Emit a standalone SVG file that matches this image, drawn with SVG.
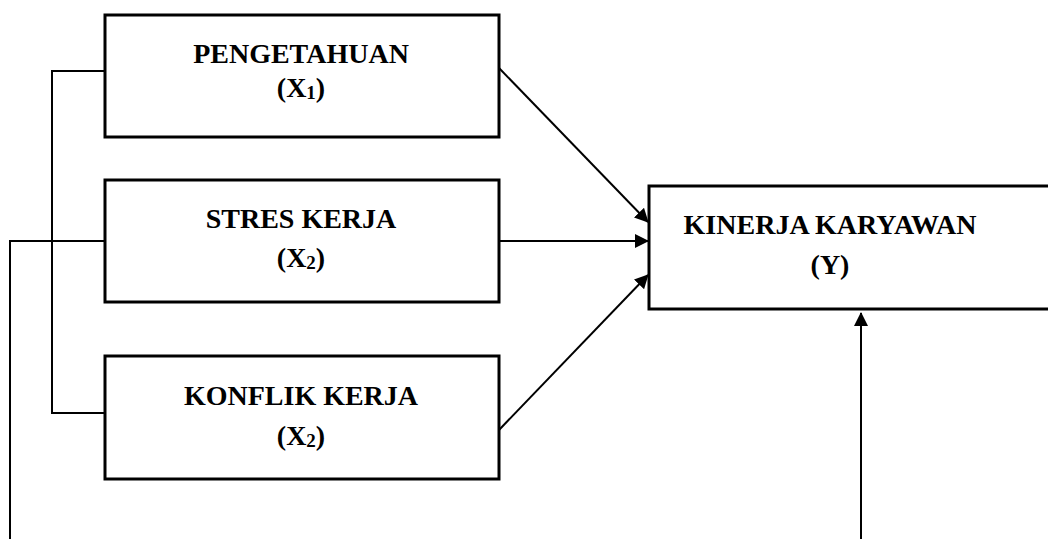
<svg xmlns="http://www.w3.org/2000/svg" width="1048" height="539" viewBox="0 0 1048 539">
<style>
.box{fill:#fff;stroke:#000;stroke-width:3}
.lbl{font-family:"Liberation Serif","Times New Roman",serif;font-weight:bold;font-size:28px;fill:#000;text-anchor:middle}
.sub{font-size:19px}
.con{fill:none;stroke:#000;stroke-width:2}
</style>
<defs>
<marker id="ah" markerWidth="10" markerHeight="10" refX="9" refY="5" orient="auto" markerUnits="userSpaceOnUse" viewBox="0 0 10 10">
<path d="M0,0 L10,5 L0,10 Z" fill="#000"/>
</marker>
<marker id="ah2" markerWidth="14" markerHeight="14" refX="13" refY="7" orient="auto" markerUnits="userSpaceOnUse" viewBox="0 0 14 14">
<path d="M0,0 L14,7 L0,14 Z" fill="#000"/>
</marker>
</defs>
<rect width="1048" height="539" fill="#fff"/>
<g id="connectors">
<polyline class="con" points="104,71 52,71 52,413 104,413"/>
<polyline class="con" points="104,241 10,241 10,539"/>
<line class="con" x1="499" y1="68" x2="648" y2="222" marker-end="url(#ah2)"/>
<line class="con" x1="499" y1="241" x2="648" y2="241" marker-end="url(#ah2)"/>
<line class="con" x1="499" y1="430" x2="648" y2="275" marker-end="url(#ah2)"/>
<line class="con" x1="861" y1="539" x2="861" y2="313" marker-end="url(#ah2)"/>
</g>
<g id="x1">
<rect class="box" x="105" y="15" width="394" height="122"/>
<text class="lbl" x="301" y="63">PENGETAHUAN</text>
<text class="lbl" x="301" y="97">(X<tspan class="sub" dy="2">1</tspan><tspan dy="-2">)</tspan></text>
</g>
<g id="x2">
<rect class="box" x="105" y="180" width="394" height="122"/>
<text class="lbl" x="301" y="228">STRES KERJA</text>
<text class="lbl" x="301" y="267">(X<tspan class="sub" dy="2">2</tspan><tspan dy="-2">)</tspan></text>
</g>
<g id="x3">
<rect class="box" x="105" y="356" width="394" height="123"/>
<text class="lbl" x="301" y="405">KONFLIK KERJA</text>
<text class="lbl" x="301" y="445">(X<tspan class="sub" dy="2">2</tspan><tspan dy="-2">)</tspan></text>
</g>
<g id="y">
<rect class="box" x="649" y="186" width="420" height="123"/>
<text class="lbl" x="830" y="234">KINERJA KARYAWAN</text>
<text class="lbl" x="830" y="274">(Y)</text>
</g>
</svg>
